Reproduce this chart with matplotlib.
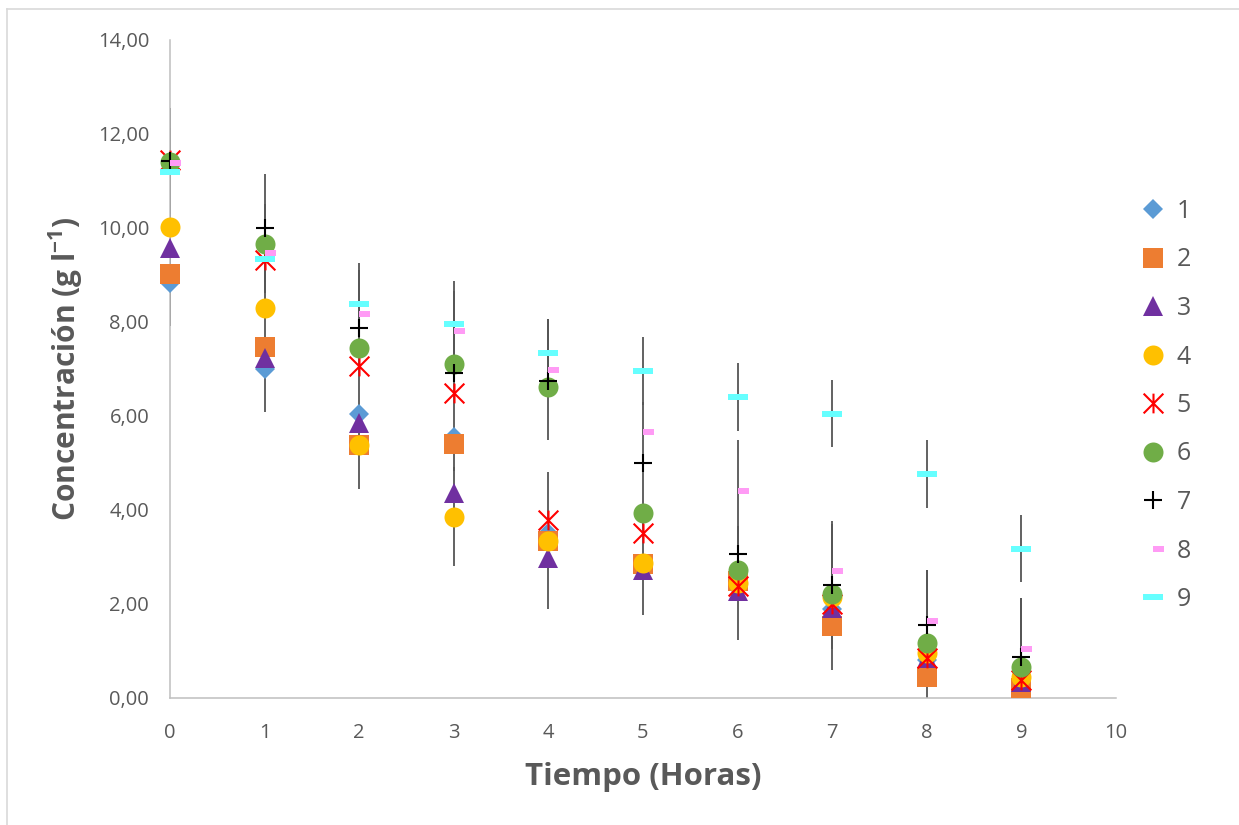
import matplotlib
matplotlib.use("Agg")
import matplotlib.pyplot as plt
from matplotlib.path import Path
from matplotlib.lines import Line2D
from matplotlib.ticker import FuncFormatter, MultipleLocator

plt.rcParams['font.family'] = ['Open Sans', 'DejaVu Sans']
plt.rcParams['mathtext.fontset'] = 'custom'
plt.rcParams['mathtext.rm'] = 'Open Sans'
plt.rcParams['mathtext.bf'] = 'Open Sans:bold'

# Tiempo (horas)
tiempo = [0, 1, 2, 3, 4, 5, 6, 7, 8, 9]

# Concentración (g/l) de cada ensayo
s1 = [8.83, 7.00, 6.05, 5.55, 3.52, 2.80, 2.35, 1.90, 0.80, 0.40]
s2 = [9.02, 7.47, 5.38, 5.40, 3.33, 2.85, 2.50, 1.53, 0.45, 0.22]
s3 = [9.58, 7.24, 5.86, 4.37, 2.97, 2.72, 2.28, 1.91, 0.85, 0.35]
s4 = [10.02, 8.30, 5.39, 3.86, 3.35, 2.87, 2.45, 2.15, 0.95, 0.45]
s5 = [11.45, 9.32, 7.07, 6.48, 3.78, 3.52, 2.38, 2.00, 0.85, 0.38]
s6 = [11.40, 9.66, 7.45, 7.11, 6.62, 3.93, 2.72, 2.22, 1.17, 0.65]
s7 = [11.42, 10.00, 7.88, 6.92, 6.75, 4.99, 3.07, 2.40, 1.55, 0.87]
s8 = [11.38, 9.47, 8.17, 7.80, 6.98, 5.65, 4.40, 2.70, 1.64, 1.04]
s9 = [11.19, 9.34, 8.38, 7.95, 7.34, 6.96, 6.41, 6.05, 4.76, 3.18]

# Barras de error
err4 = [2.10, 2.21, 0.95, 1.05, 1.45, 1.11, 1.22, 1.55, 1.77, 1.67]
err7_minus = [1.13, 1.15, 1.55, 2.10, 1.27, 1.30, 0.50, 1.36, 1.17, 1.25]
err7_plus = [1.13, 1.15, 1.38, 1.95, 1.32, 1.30, 2.41, 1.36, 1.17, 1.25]
err9 = [0.72] * 10

series_labels = ['1', '2', '3', '4', '5', '6', '7', '8', '9']

# custom marker shapes
star_path = Path([(-1, -1), (1, 1), (-1, 1), (1, -1), (0, -1), (0, 1)],
                 [Path.MOVETO, Path.LINETO, Path.MOVETO, Path.LINETO,
                  Path.MOVETO, Path.LINETO])
short_dash = Path([(0, -0.25), (1, -0.25), (1, 0.25), (0, 0.25), (0, -0.25)],
                  [Path.MOVETO, Path.LINETO, Path.LINETO, Path.LINETO,
                   Path.CLOSEPOLY])
long_dash = Path([(-1, -0.25), (1, -0.25), (1, 0.25), (-1, 0.25), (-1, -0.25)],
                 [Path.MOVETO, Path.LINETO, Path.LINETO, Path.LINETO,
                  Path.CLOSEPOLY])

styles = [
    dict(marker='D', color='#5B9BD5', ms=10.0, mew=0),
    dict(marker='s', color='#ED7D31', ms=14.2, mew=0),
    dict(marker='^', color='#7030A0', ms=14.4, mew=0),
    dict(marker='o', color='#FFC000', ms=14.4, mew=0),
    dict(marker=star_path, color='#FF0000', ms=14.2, mew=1.5,
         fillstyle='none'),
    dict(marker='o', color='#70AD47', ms=14.4, mew=0),
    dict(marker='+', color='#000000', ms=13.5, mew=1.5),
    dict(marker=short_dash, color='#FF9BF5', ms=15.5, mew=0),
    dict(marker=long_dash, color='#66FFFF', ms=15.0, mew=0),
]
series = [s1, s2, s3, s4, s5, s6, s7, s8, s9]

fig = plt.figure(figsize=(12.39, 8.25), dpi=100)
ax = fig.add_axes([170 / 1239, 1 - 698 / 825, (1116 - 170) / 1239,
                   (698 - 40) / 825])

grey = '#595959'
ebar_kw = dict(fmt='none', ecolor='#555555', elinewidth=1.3, capsize=0,
               zorder=1)
ax.errorbar(tiempo, s4, yerr=err4, **ebar_kw)
ax.errorbar(tiempo, s7, yerr=[err7_minus, err7_plus], **ebar_kw)
ax.errorbar(tiempo, s9, yerr=err9, **ebar_kw)

for i, (ys, st) in enumerate(zip(series, styles)):
    ax.plot(tiempo, ys, linestyle='none', label=series_labels[i],
            zorder=3 + i, clip_on=False, **st)

ax.set_xlim(0, 10)
ax.set_ylim(0, 14)
ax.xaxis.set_major_locator(MultipleLocator(1))
ax.yaxis.set_major_locator(MultipleLocator(2))
ax.yaxis.set_major_formatter(FuncFormatter(lambda v, p: f'{v:.2f}'.replace('.', ',')))

for side in ('top', 'right'):
    ax.spines[side].set_visible(False)
for side in ('left', 'bottom'):
    ax.spines[side].set_color('#BFBFBF')
    ax.spines[side].set_linewidth(1.1)

ax.tick_params(axis='both', length=0, colors=grey, labelsize=14.5)
ax.tick_params(axis='y', pad=15)
ax.tick_params(axis='x', pad=18)

ax.set_xlabel('Tiempo (Horas)', fontsize=22.5, fontweight='bold', color=grey,
              labelpad=14)
ax.set_ylabel(r'Concentración (g l$^{\mathbf{-1}}$)', fontsize=21.5,
              fontweight='bold', color=grey, labelpad=9)

leg = ax.legend(loc='upper left', bbox_to_anchor=(1138 / 1239, 1 - 199 / 825),
                bbox_transform=fig.transFigure, frameon=False, fontsize=18,
                labelcolor=grey, handlelength=1.2, handletextpad=0.35,
                labelspacing=0.94, borderaxespad=0, borderpad=0)

# outer frame (left and top edges)
fig.add_artist(Line2D([7 / 1239, 7 / 1239], [0, 1 - 9 / 825],
                      transform=fig.transFigure, color='#D9D9D9', lw=1.2))
fig.add_artist(Line2D([7 / 1239, 1], [1 - 9 / 825, 1 - 9 / 825],
                      transform=fig.transFigure, color='#D9D9D9', lw=1.2))

fig.savefig('out.png', dpi=100)
